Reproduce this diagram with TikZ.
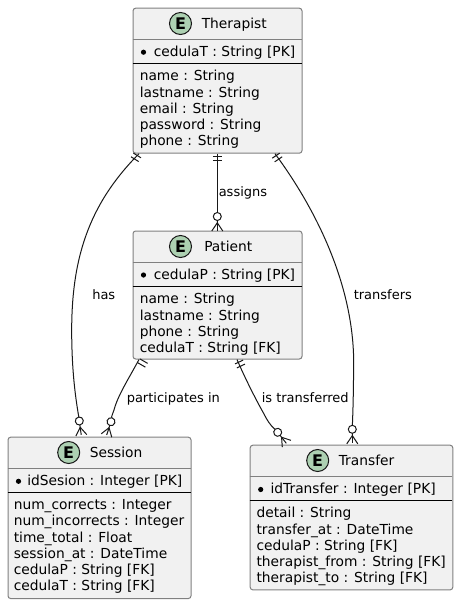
\documentclass[tikz,border=0pt]{standalone}
\usepackage{fontspec}
\setmainfont{DejaVu Sans}
\definecolor{entfill}{HTML}{F1F1F1}
\definecolor{badgefill}{HTML}{ADD1B2}
\definecolor{edge}{HTML}{181818}
\begin{document}
\begin{tikzpicture}[x=0.75pt,y=-0.75pt,
  every node/.style={font=\fontsize{10.35}{12.2}\selectfont,inner sep=0pt},
  entity/.style={draw=black!50,fill=entfill,line width=0.75pt,rounded corners=2pt,anchor=north west,minimum width=#1},
  title/.style={anchor=base west},
  field/.style={anchor=north west,align=left},
  badge/.style={circle,draw=edge,fill=badgefill,line width=0.75pt,minimum size=16.5pt,font=\fontsize{12}{12}\selectfont\bfseries},
  lbl/.style={font=\fontsize{9.75}{12}\selectfont,anchor=base west},
  rel/.style={line width=0.75pt,edge},
  rule/.style={line width=0.75pt},
  crow/.pic={
    \draw[rel,fill=white] (0,0) circle[radius=4];
    \draw[rel] (0,4) -- (0,6.3) (-5.5,14.5) -- (0,6.3) -- (5.5,14.5);
    \draw[rel] (0,6.3) -- (0,14);
  },
  bar/.pic={\draw[rel] (-4.5,-2.2) -- (4.5,-2.2) (-4.5,2.2) -- (4.5,2.2);}
]
\useasboundingbox (0,0) rectangle (458,604);
\fill[white] (0,0) rectangle (458,604);

\node[entity=169*0.75pt,minimum height=108.75pt] (therapist) at (132.5,7.7) {};
\node[entity=169*0.75pt,minimum height=96pt] (patient) at (132.5,230.5) {};
\node[entity=183*0.75pt,minimum height=121pt] (session) at (7.5,436.7) {};
\node[entity=202.6*0.75pt,minimum height=108.5pt] (transfer) at (249.7,444.7) {};

\draw[rel] (therapist.south west) ++(6.5,0) .. controls (88,205) and (71,260) .. (71.7,335) .. controls (72,370) and (75,395) .. (78.8,417) coordinate (hasend);
\draw[rel] (therapist.south west) ++(84.8,0) -- ++(0,60) coordinate (asgend);
\draw[rel] (therapist.south east) ++(-27.5,0) .. controls (313,205) and (356,285) .. (353.6,370) .. controls (353.4,395) and (353,410) .. (352.4,425) coordinate (trsend);
\draw[rel] (patient.south west) ++(6.5,0) .. controls (128,380) and (118,395) .. (114,410) .. controls (113,413) and (112,415) .. (111.3,417.7) coordinate (parend);
\draw[rel] (patient.south west) ++(104.5,0) .. controls (245,378) and (255,398) .. (264,414) .. controls (267,420) and (270,425) .. (275,429.3) coordinate (isend);

\pic[rotate=-32] at (136,157.3) {bar};
\pic at (217.3,158.3) {bar};
\pic[rotate=34] at (277.2,157.5) {bar};
\pic[rotate=-30] at (142.6,363) {bar};
\pic[rotate=25] at (240,364) {bar};

\pic[rotate=8] at (79.3,421) {crow};
\pic at (217.3,216.5) {crow};
\pic at (352.3,429.3) {crow};
\pic[rotate=-18] at (111,421.7) {crow};
\pic[rotate=38] at (277.7,432.3) {crow};

\node[badge] (bt) at (180.5,23.5) {E};
\node[title] (tt) at (201.5,28.5) {Therapist};
\draw[rule,black!50] (132.5,39.5) -- (301.5,39.5);
\fill (143.5,52.2) circle[radius=2.6];
\node[field] (tk) at (153.5,46) {cedulaT : String [PK]};
\draw[rule] (132.5,63.5) -- (301.5,63.5);
\node[field] (tf) at (139.5,70) {name : String\\lastname : String\\email : String\\password : String\\phone : String};

\node[badge] (bp) at (180.5,246.5) {E};
\node[title] (tp) at (204,251.5) {Patient};
\draw[rule,black!50] (132.5,262.3) -- (301.5,262.3);
\fill (143.5,275) circle[radius=2.6];
\node[field] (pk) at (153.5,268.8) {cedulaP : String [PK]};
\draw[rule] (132.5,286.3) -- (301.5,286.3);
\node[field] (pf) at (139.5,293) {name : String\\lastname : String\\phone : String\\cedulaT : String [FK]};

\node[badge] (bs) at (68.7,452.5) {E};
\node[title] (ts) at (89.5,457.5) {Session};
\draw[rule,black!50] (7.5,468.3) -- (190.5,468.3);
\fill (18.5,481.3) circle[radius=2.6];
\node[field] (sk) at (27,475) {idSesion : Integer [PK]};
\draw[rule] (7.5,492.7) -- (190.5,492.7);
\node[field] (sf) at (13.5,499.3) {num\_corrects : Integer\\num\_incorrects : Integer\\time\_total : Float\\session\_at : DateTime\\cedulaP : String [FK]\\cedulaT : String [FK]};

\node[badge] (bx) at (317.7,460.5) {E};
\node[title] (tx) at (338.5,465.5) {Transfer};
\draw[rule,black!50] (249.7,476.7) -- (452.3,476.7);
\fill (260.7,489.5) circle[radius=2.6];
\node[field] (xk) at (270.3,483) {idTransfer : Integer [PK]};
\draw[rule] (249.7,500.3) -- (452.3,500.3);
\node[field] (xf) at (256.3,507) {detail : String\\transfer\_at : DateTime\\cedulaP : String [FK]\\therapist\_from : String [FK]\\therapist\_to : String [FK]};

\node[lbl] (l1) at (92,299) {has};
\node[lbl] (l2) at (218.5,196) {assigns};
\node[lbl] (l3) at (353.5,299) {transfers};
\node[lbl] (l4) at (126.5,402) {participates in};
\node[lbl] (l5) at (261.5,402) {is transferred};
\end{tikzpicture}
\end{document}
